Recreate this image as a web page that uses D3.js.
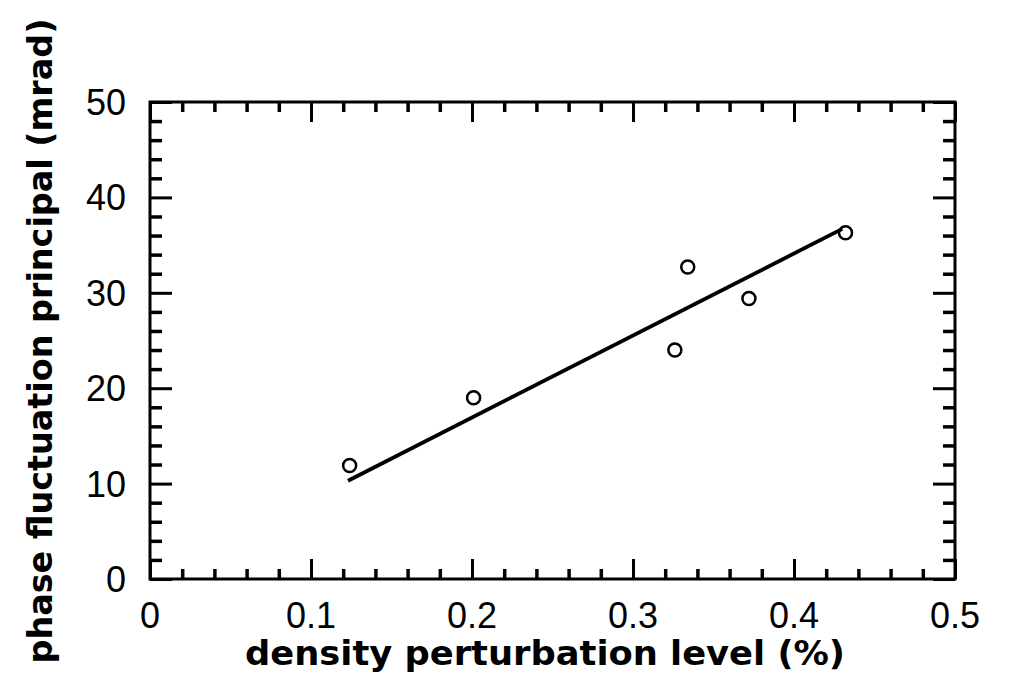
<!DOCTYPE html>
<html>
<head>
<meta charset="utf-8">
<script src="https://cdn.jsdelivr.net/npm/d3@7"></script>
<style>
  html, body { margin: 0; padding: 0; background: #fff; }
  svg { display: block; }
  .tick-label { font-family: "Liberation Sans", Arial, sans-serif; font-size: 36px; fill: #000; }
  .axis-title { font-family: "DejaVu Sans", "Liberation Sans", Arial, sans-serif; font-size: 33px; font-weight: bold; fill: #000; }
</style>
</head>
<body>
<svg id="chart" width="1009" height="692"></svg>
<script>
// Measured points: density perturbation level (%) vs phase fluctuation (mrad)
const densityLevel = [0.124, 0.201, 0.326, 0.334, 0.372, 0.432];
const phaseFluct   = [11.9, 19.0, 24.0, 32.7, 29.4, 36.3];

// Linear trend line endpoints
const fitX = [0.123, 0.43];
const fitY = [10.3, 36.7];

const xTicks = [0, 0.1, 0.2, 0.3, 0.4, 0.5];
const xTickLabels = ["0", "0.1", "0.2", "0.3", "0.4", "0.5"];
const yTicks = [0, 10, 20, 30, 40, 50];
const yTickLabels = ["0", "10", "20", "30", "40", "50"];

const xLabel = "density perturbation level (%)";
const yLabel = "phase fluctuation principal (mrad)";

const svg = d3.select("#chart");
const plotLeft = 150, plotRight = 955, plotTop = 102, plotBottom = 579;

const x = d3.scaleLinear().domain([0, 0.5]).range([plotLeft, plotRight]);
const y = d3.scaleLinear().domain([0, 50]).range([plotBottom, plotTop]);

const xMinor = d3.range(0, 0.5001, 0.02).filter(v => Math.abs(v * 10 - Math.round(v * 10)) > 1e-6);
const yMinor = d3.range(0, 50.001, 2).filter(v => v % 10 !== 0);

const majorLen = 20, minorLen = 10;

// Axes with inward ticks on all four sides
function axisGroup(axis, transform, width) {
  const g = svg.append("g").attr("transform", transform).call(axis);
  g.selectAll(".domain").remove();
  g.selectAll("text").remove();
  g.selectAll("line").attr("stroke", "#000").attr("stroke-width", width);
  return g;
}

axisGroup(d3.axisBottom(x).tickValues(xTicks).tickSize(-majorLen), `translate(0,${plotBottom})`, 3);
axisGroup(d3.axisBottom(x).tickValues(xMinor).tickSize(-minorLen), `translate(0,${plotBottom})`, 3.5);
axisGroup(d3.axisTop(x).tickValues(xTicks).tickSize(-majorLen), `translate(0,${plotTop})`, 3);
axisGroup(d3.axisTop(x).tickValues(xMinor).tickSize(-minorLen), `translate(0,${plotTop})`, 3.5);
axisGroup(d3.axisLeft(y).tickValues(yTicks).tickSize(-majorLen - 2), `translate(${plotLeft},0)`, 3);
axisGroup(d3.axisLeft(y).tickValues(yMinor).tickSize(-minorLen - 2), `translate(${plotLeft},0)`, 3.5);
axisGroup(d3.axisRight(y).tickValues(yTicks).tickSize(-majorLen - 2), `translate(${plotRight},0)`, 3);
axisGroup(d3.axisRight(y).tickValues(yMinor).tickSize(-minorLen - 2), `translate(${plotRight},0)`, 3.5);

// Frame
svg.append("rect")
  .attr("x", plotLeft).attr("y", plotTop)
  .attr("width", plotRight - plotLeft).attr("height", plotBottom - plotTop)
  .attr("fill", "none").attr("stroke", "#000").attr("stroke-width", 3);

// Tick labels
svg.append("g").selectAll("text").data(xTicks).join("text")
  .attr("class", "tick-label")
  .attr("x", d => x(d)).attr("y", 628)
  .attr("text-anchor", "middle")
  .text((d, i) => xTickLabels[i]);

svg.append("g").selectAll("text").data(yTicks).join("text")
  .attr("class", "tick-label")
  .attr("x", 126).attr("y", d => y(d) + 13)
  .attr("text-anchor", "end")
  .text((d, i) => yTickLabels[i]);

// Axis titles
svg.append("text").attr("class", "axis-title")
  .attr("x", 545).attr("y", 665)
  .attr("text-anchor", "middle")
  .attr("textLength", 600).attr("lengthAdjust", "spacingAndGlyphs")
  .text(xLabel);

svg.append("text").attr("class", "axis-title")
  .attr("transform", `translate(52,341) rotate(-90)`)
  .attr("text-anchor", "middle")
  .attr("textLength", 645).attr("lengthAdjust", "spacingAndGlyphs")
  .text(yLabel);

// Trend line
svg.append("path")
  .datum(fitX.map((v, i) => [v, fitY[i]]))
  .attr("fill", "none").attr("stroke", "#000").attr("stroke-width", 3.8)
  .attr("d", d3.line().x(d => x(d[0])).y(d => y(d[1])));

// Data markers
svg.append("g").selectAll("circle")
  .data(densityLevel.map((v, i) => [v, phaseFluct[i]]))
  .join("circle")
  .attr("cx", d => x(d[0])).attr("cy", d => y(d[1]))
  .attr("r", 6.5)
  .attr("fill", "none").attr("stroke", "#000").attr("stroke-width", 2.5);
</script>
</body>
</html>
